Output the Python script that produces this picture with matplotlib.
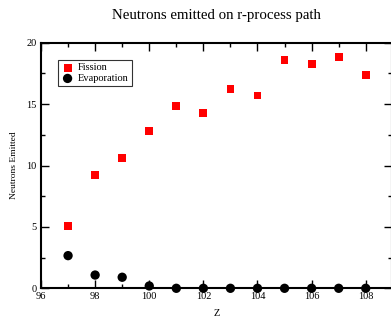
import numpy as np
import matplotlib
matplotlib.use("Agg")
import matplotlib.pyplot as plt
from matplotlib.ticker import MultipleLocator

# data
z_fission = [97, 98, 99, 100, 101, 102, 103, 104, 105, 106, 107, 108]
n_fission = [5.05, 9.23, 10.61, 12.81, 14.85, 14.25, 16.2, 15.7, 18.6, 18.24, 18.86, 17.4]
z_evap = [97, 98, 99, 100, 101, 102, 103, 104, 105, 106, 107, 108]
n_evap = [2.66, 1.08, 0.9, 0.19, 0.0, 0.0, 0.0, 0.0, 0.0, 0.0, 0.0, 0.0]

plt.rcParams['font.family'] = ['Liberation Serif', 'DejaVu Serif']

fig = plt.figure(figsize=(3.91, 3.21), dpi=100)
ax = fig.add_axes([41 / 391, 1 - 288.3 / 321, 351 / 391, 245.6 / 321])

ax.scatter(z_fission, n_fission, marker='s', s=32, color='red', edgecolors='none',
           label='Fission', zorder=3, clip_on=False)
ax.scatter(z_evap, n_evap, marker='o', s=45, color='black', edgecolors='none',
           label='Evaporation', zorder=3, clip_on=False)

ax.set_xlim(96, 108.97)
ax.set_ylim(0, 20)
ax.xaxis.set_major_locator(MultipleLocator(2))
ax.xaxis.set_minor_locator(MultipleLocator(1))
ax.yaxis.set_major_locator(MultipleLocator(5))
ax.yaxis.set_minor_locator(MultipleLocator(2.5))
ax.tick_params(which='both', direction='in', top=True, right=True, labelsize=7.5)
ax.tick_params(axis='x', pad=2.5)
ax.tick_params(axis='y', pad=3)
ax.tick_params(which='major', length=6, width=1)
ax.tick_params(which='minor', length=3, width=1)
for sp in ax.spines.values():
    sp.set_linewidth(1.5)

ax.set_title('Neutrons emitted on r-process path', fontsize=10.7, pad=17)
ax.set_xlabel('Z', fontsize=7.5, labelpad=6)
ax.set_ylabel('Neutrons Emitted', fontsize=6.8, labelpad=6)

leg = ax.legend(loc='upper left', bbox_to_anchor=(0.049, 0.93), fontsize=7.5,
                frameon=True, fancybox=False, handletextpad=0.4, borderpad=0.3,
                labelspacing=0.15, handlelength=1.2, borderaxespad=0)
leg.get_frame().set_edgecolor('black')
leg.get_frame().set_linewidth(0.8)

fig.savefig('out.png', dpi=100)
